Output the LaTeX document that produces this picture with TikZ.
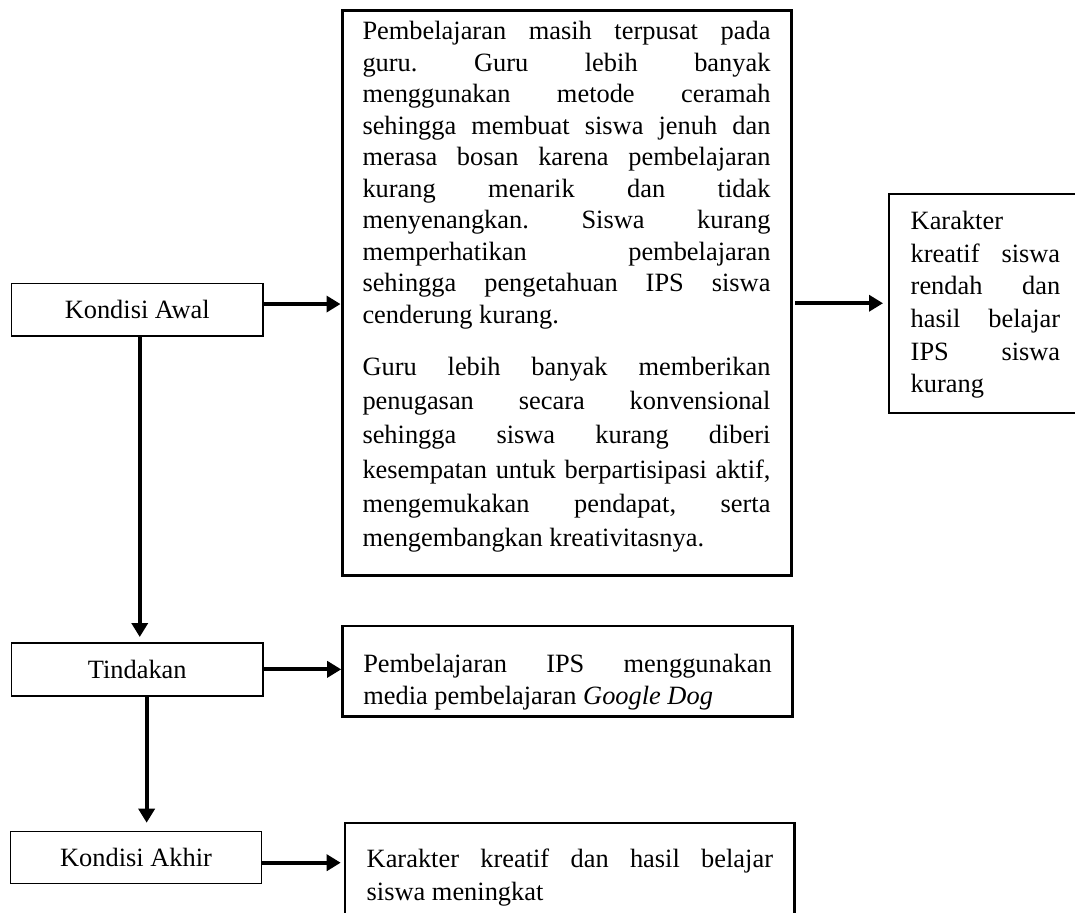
\documentclass[tikz,border=0pt]{standalone}
\usepackage{fontspec}
\setmainfont{Liberation Serif}
\usetikzlibrary{arrows.meta}
\tikzset{ kondisi/.style={draw,line width=1.6pt,minimum width=251.5pt,minimum height=52.7pt,inner sep=0pt,outer sep=0pt,anchor=north west,font=\fontsize{26.4}{31.5}\selectfont},
  uraian/.style={draw,anchor=north west,align=justify,inner ysep=0pt,outer sep=0pt,font={\fontsize{26.4}{32.7}\selectfont\frenchspacing\hbadness=10000}},
  panah/.style={line width=4pt,-{Triangle[length=14pt,width=16pt]}} }

\begin{document}
\begin{tikzpicture}[x=1pt,y=-1pt]
   \useasboundingbox (0,0) rectangle (1075,912);
   \clip (0,0) rectangle (1075,912);
   \node[kondisi] (awal) at (11.5,283.3) {Kondisi Awal};
   \node[kondisi] (tindakan) at (11.5,643) {Tindakan};
   \node[kondisi,minimum width=251pt,minimum height=52pt] (akhir) at (10.5,831.5) {Kondisi Akhir};
   \node[uraian,line width=3pt,text width=408pt,inner xsep=20.5pt,text height=29.5pt,text depth=535.5pt] (masalah) at (342,10.5) {\baselineskip=31.5pt
     Pembelajaran masih terpusat pada\linebreak
     guru. Guru lebih banyak\linebreak
     menggunakan metode ceramah\linebreak
     sehingga membuat siswa jenuh dan\linebreak
     merasa bosan karena pembelajaran\linebreak
     kurang menarik dan tidak\linebreak
     menyenangkan. Siswa kurang\linebreak
     memperhatikan pembelajaran\linebreak
     sehingga pengetahuan IPS siswa\linebreak
     cenderung kurang.\par
     \vspace{17.4pt}\baselineskip=34.3pt
     Guru lebih banyak memberikan\linebreak
     penugasan secara konvensional\linebreak
     sehingga siswa kurang diberi\linebreak
     kesempatan untuk berpartisipasi aktif,\linebreak
     mengemukakan pendapat, serta\linebreak
     mengembangkan kreativitasnya.\par};
   \node[uraian,line width=2pt,text width=149.5pt,inner xsep=21.7pt,text height=35.8pt,text depth=183.7pt] (dampak) at (889,193.5) {Karakter\linebreak
     kreatif siswa\linebreak
     rendah dan\linebreak
     hasil belajar\linebreak
     IPS siswa\linebreak
     kurang};
   \node[uraian,line width=2.5pt,text width=408.4pt,inner xsep=20.6pt,text height=46pt,text depth=44.7pt] (media) at (342.7,626) {Pembelajaran IPS menggunakan\linebreak
     media pembelajaran \textit{Google Dog}};
   \node[uraian,line width=2.5pt,text width=406.3pt,inner xsep=21.7pt,text height=44.3pt,text depth=100pt] (hasil) at (345,823) {Karakter kreatif dan hasil belajar\linebreak
     siswa meningkat};
   \draw[panah,shorten >=1.5pt] ([yshift=5.6pt]awal.east) -- ([yshift=5.6pt]awal.east -| masalah.west);
   \draw[panah,shorten <=4pt,shorten >=6pt] (dampak.west -| masalah.east) -- (dampak.west);
   \draw[panah,shorten >=6pt] ([xshift=2.5pt]awal.south) -- ([xshift=2.5pt]awal.south |- tindakan.north);
   \draw[panah,shorten >=1.5pt] (tindakan.east) -- (tindakan.east -| media.west);
   \draw[panah,shorten >=8.8pt] ([xshift=9.4pt]tindakan.south) -- ([xshift=9.4pt]tindakan.south |- akhir.north);
   \draw[panah,shorten >=4.3pt] ([yshift=-5.2pt]akhir.east) -- ([yshift=-5.2pt]akhir.east -| hasil.west);
\end{tikzpicture}
\end{document}
